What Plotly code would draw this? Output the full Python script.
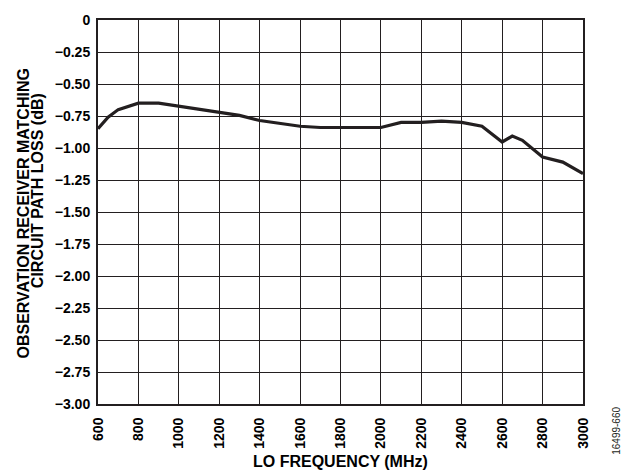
import plotly.graph_objects as go

# LO frequency (MHz) and path loss (dB)
freq_mhz = [600, 610, 650, 700, 800, 900, 1000, 1100, 1200, 1300, 1400, 1500, 1600, 1700,
            1800, 1900, 2000, 2100, 2200, 2300, 2400, 2500, 2600, 2650, 2700, 2800, 2900, 3000]
loss_db = [-0.85, -0.83, -0.76, -0.70, -0.65, -0.65, -0.675, -0.70, -0.725, -0.745, -0.785,
           -0.805, -0.83, -0.84, -0.84, -0.84, -0.84, -0.80, -0.80, -0.79, -0.80, -0.83,
           -0.953, -0.907, -0.94, -1.07, -1.11, -1.20]

x_ticks = list(range(600, 3001, 200))
y_ticks = [0, -0.25, -0.5, -0.75, -1.0, -1.25, -1.5, -1.75, -2.0, -2.25, -2.5, -2.75, -3.0]
y_tick_text = ["0"] + ["\u2212%.2f" % abs(v) for v in y_ticks[1:]]

x_title = "LO FREQUENCY (MHz)"
y_title_lines = ["OBSERVATION RECEIVER MATCHING", "CIRCUIT PATH LOSS (dB)"]
fig_number = "16499-660"

font_family = "Liberation Sans, Arial, sans-serif"
ink = "#231f20"

W, H = 634, 470
L, R, T, B = 98, 51, 17, 66
PW, PH = W - L - R, H - T - B


def px(x):
    return (x - L) / PW


def py(y):
    return (H - B - y) / PH


fig = go.Figure()
fig.add_trace(go.Scatter(
    x=freq_mhz, y=loss_db, mode="lines",
    line=dict(color=ink, width=3.2),
    hoverinfo="skip", showlegend=False,
))

fig.update_layout(
    width=W, height=H,
    margin=dict(l=L, r=R, t=T, b=B),
    paper_bgcolor="white", plot_bgcolor="white",
    font=dict(family=font_family, color="#000000"),
    xaxis=dict(
        range=[600, 3000], tickvals=x_ticks,
        ticktext=["<b>%d</b>" % v for v in x_ticks],
        tickangle=-90, tickfont=dict(size=14, family=font_family),
        ticklabelstandoff=6,
        showgrid=True, gridcolor=ink, gridwidth=1.2,
        showline=True, linecolor=ink, linewidth=2, mirror=True,
        ticks="", zeroline=False,
    ),
    yaxis=dict(
        range=[-3.0, 0], tickvals=y_ticks,
        ticktext=["<b>%s</b>" % t for t in y_tick_text],
        tickfont=dict(size=14, family=font_family),
        ticklabelstandoff=3,
        showgrid=True, gridcolor=ink, gridwidth=1.2,
        showline=True, linecolor=ink, linewidth=2, mirror=True,
        ticks="", zeroline=False,
    ),
)

title_font = dict(size=16, family=font_family, color="#000000")
annotations = [
    dict(text="<b>%s</b>" % x_title, x=px(340.5), y=py(461.5),
         xanchor="center", yanchor="middle", font=title_font),
    dict(text="<b>%s</b>" % y_title_lines[0], x=px(23), y=py(212), textangle=-90,
         xanchor="center", yanchor="middle", font=title_font),
    dict(text="<b>%s</b>" % y_title_lines[1], x=px(37), y=py(189.5), textangle=-90,
         xanchor="center", yanchor="middle", font=title_font),
    dict(text=fig_number, x=px(617), y=py(431), textangle=-90,
         xanchor="center", yanchor="middle",
         font=dict(size=10, family=font_family, color=ink)),
]
for a in annotations:
    fig.add_annotation(xref="paper", yref="paper", showarrow=False, **a)

fig.write_html("out.html")
